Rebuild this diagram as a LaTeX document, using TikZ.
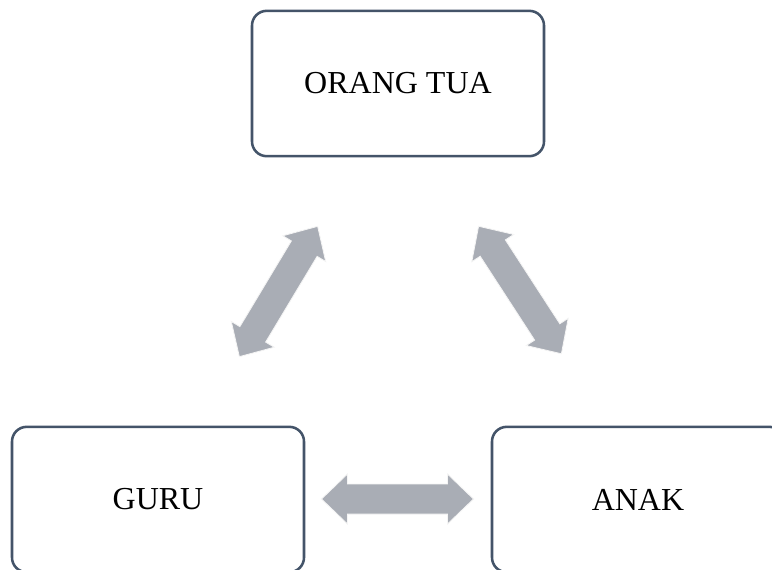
\documentclass[tikz,border=0pt]{standalone}
\usepackage{fontspec}
\setmainfont{Liberation Serif}
\definecolor{boxline}{HTML}{445469}
\definecolor{arrowfill}{HTML}{A9ADB5}
\begin{document}
\begin{tikzpicture}[x=0.75pt,y=-0.75pt,
  box/.style={draw=boxline, line width=1.9pt, rounded corners=11pt, fill=white,
    minimum width=219pt, minimum height=109pt, inner sep=0pt, font=\fontsize{24}{28}\selectfont},
  blockarrow/.pic={
    \fill[arrowfill, draw=white!92!gray, line width=0.6pt]
      (-76,0) -- (-50,-25) -- (-50,-15) -- (50,-15) -- (50,-25) -- (76,0)
      -- (50,25) -- (50,15) -- (-50,15) -- (-50,25) -- cycle;
  }]
\useasboundingbox (0,0) rectangle (772,569);
\clip (0,0) rectangle (772,569);
\fill[white] (0,0) rectangle (772,569);
\node[box] (ortu) at (398,83.5) {ORANG TUA};
\node[box] (guru) at (158,499.5) {GURU};
\node[box] (anak) at (638,499.5) {ANAK};
\pic (a1) at (278.5,291.5) [rotate=59] {blockarrow};
\pic (a2) at (520,290) [rotate=123] {blockarrow};
\pic (a3) at (397.5,499) {blockarrow};
\end{tikzpicture}
\end{document}
